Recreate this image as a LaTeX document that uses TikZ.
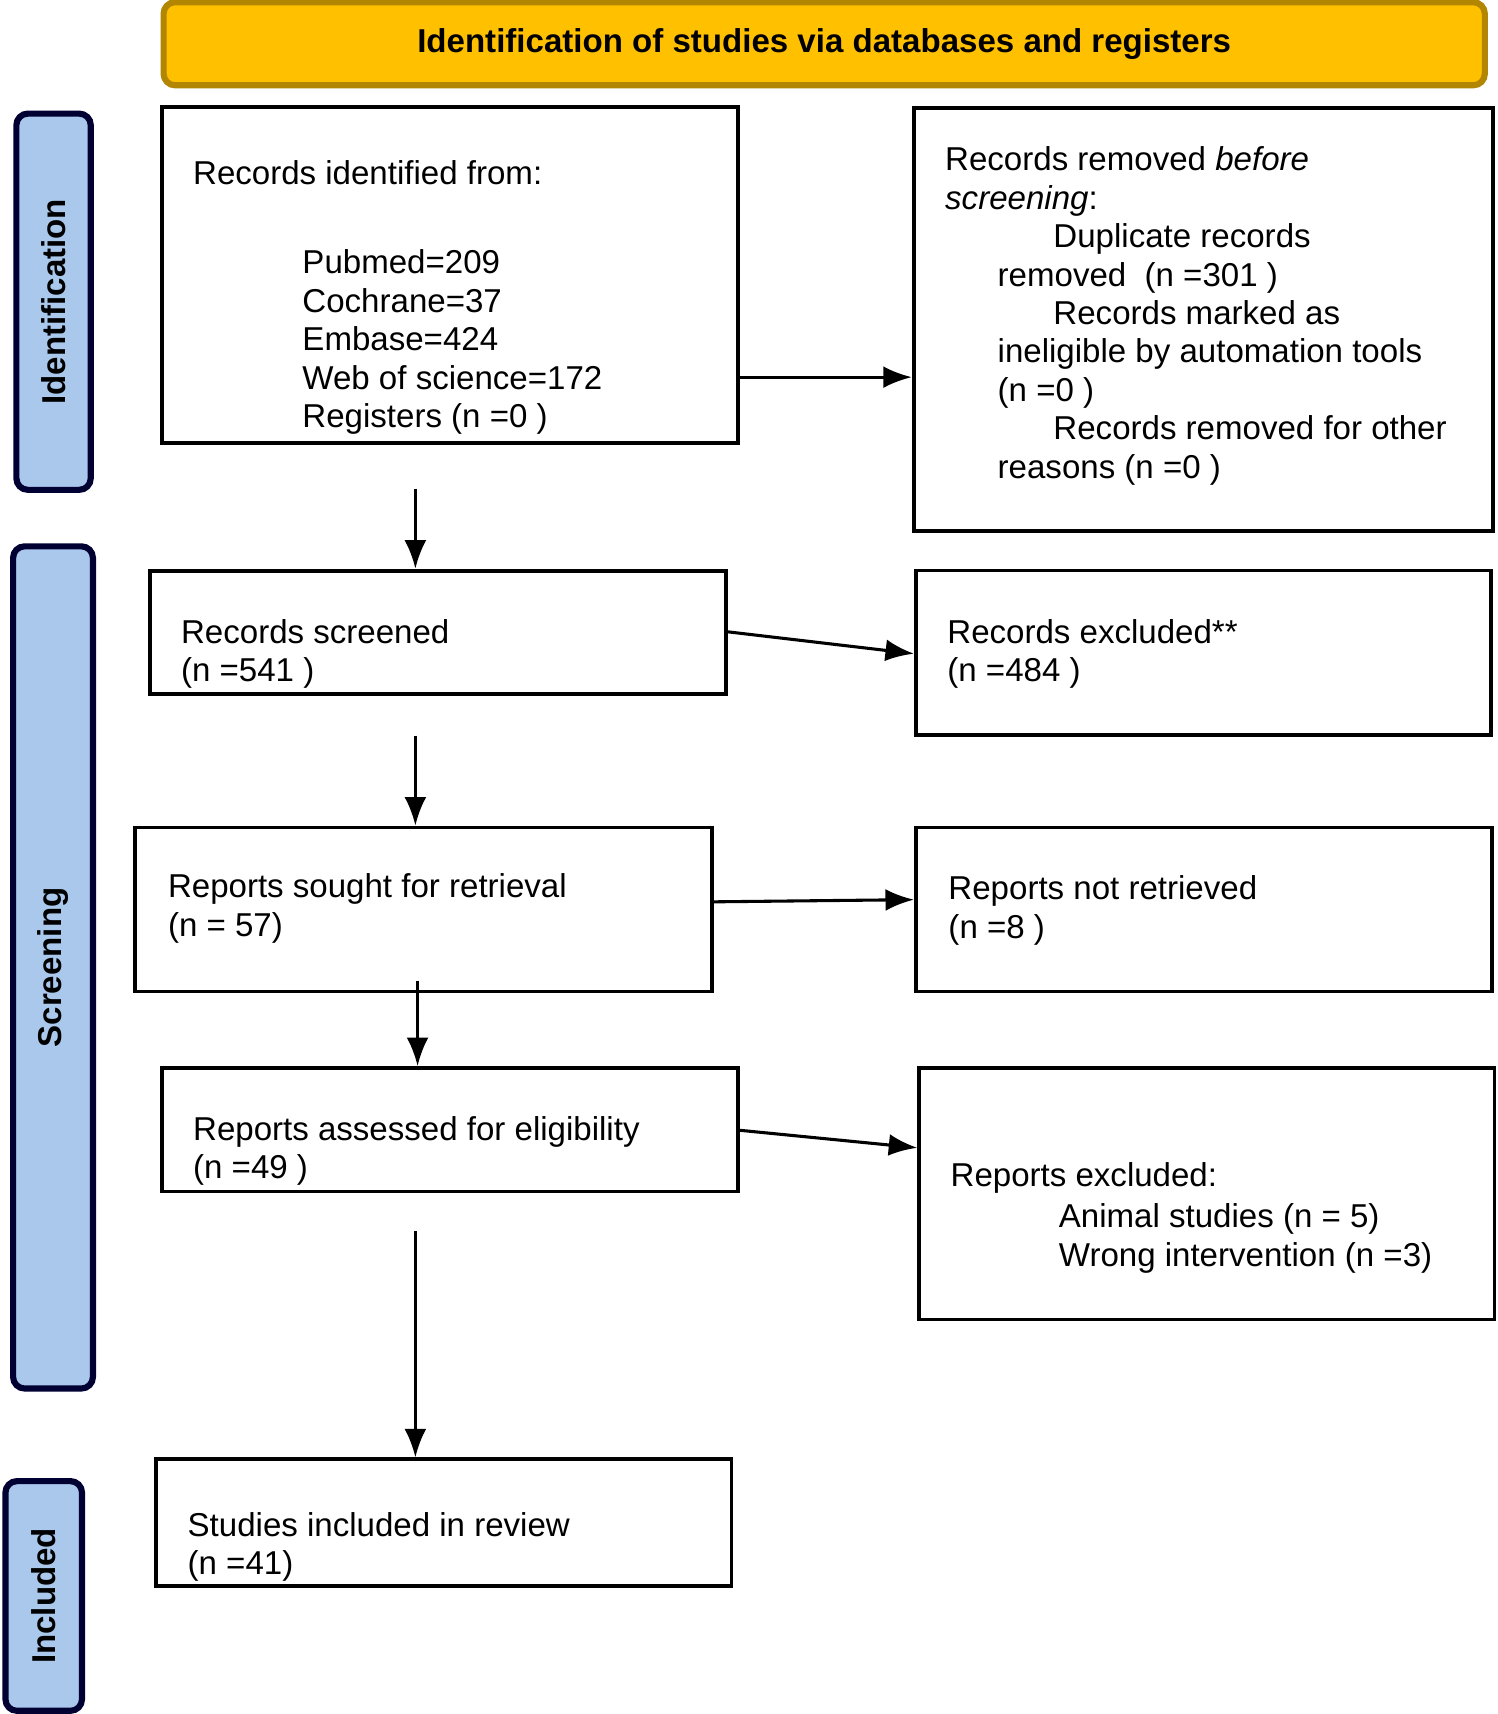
\documentclass[tikz,border=0pt]{standalone}
\usepackage{fontspec}
\setmainfont{Liberation Sans}
\usetikzlibrary{arrows.meta}
\tikzset{
  box/.style={draw=black, line width=1pt, inner sep=0pt},
  side/.style={draw=black!80!blue, line width=1.6pt, fill=sideblue, rounded corners=3pt, inner sep=0pt},
  txt/.style={anchor=west, align=left, inner sep=0pt, font=\fontsize{8.6}{10}\selectfont},
  lbl/.style={rotate=90, inner sep=0pt, font=\fontsize{8.6}{10}\selectfont\bfseries},
  arr/.style={-{Latex[length=2.6mm,width=2mm]}, line width=0.8pt}
}
\definecolor{sideblue}{HTML}{A9C8EC}
\definecolor{headorange}{HTML}{FFC000}
\begin{document}
\begin{tikzpicture}[x=0.01cm,y=-0.01cm]
\useasboundingbox (0,0) rectangle (1370,1568);

% header and side labels
\node[side, fill=headorange, draw=headorange!70!black, minimum width=12.08cm, minimum height=0.76cm,
  font=\fontsize{8.6}{10}\selectfont\bfseries] (head) at (754,40) {Identification of studies via databases and registers};
\node[side, minimum width=0.68cm, minimum height=3.44cm] (sid) at (49,276) {};
\node[lbl] (sidtxt) at (sid) {Identification};
\node[side, minimum width=0.73cm, minimum height=7.70cm] (sscr) at (48.5,885) {};
\node[lbl] (sscrtxt) at (sscr) {Screening};
\node[side, minimum width=0.70cm, minimum height=2.10cm] (sinc) at (40,1460) {};
\node[lbl] (sinctxt) at (sinc) {Included};

% boxes
\node[box, minimum width=5.27cm, minimum height=3.07cm] (b1) at (411.5,251.5) {};
\node[box, minimum width=5.30cm, minimum height=3.87cm] (r1) at (1101,292.5) {};
\node[box, minimum width=5.27cm, minimum height=1.13cm] (b2) at (400.5,578.5) {};
\node[box, minimum width=5.26cm, minimum height=1.50cm] (r2) at (1101,597) {};
\node[box, minimum width=5.27cm, minimum height=1.50cm] (b3) at (387.5,832) {};
\node[box, minimum width=5.27cm, minimum height=1.50cm] (r3) at (1101.5,832) {};
\node[box, minimum width=5.27cm, minimum height=1.13cm] (b4) at (411.5,1033.5) {};
\node[box, minimum width=5.26cm, minimum height=2.30cm] (r4) at (1104,1092) {};
\node[box, minimum width=5.26cm, minimum height=1.16cm] (b5) at (406,1393) {};

% texts
\node[txt] (t1a) at (176,158) {Records identified from:};
\node[txt] (t1b) at (276,313) {Pubmed=209\\Cochrane=37\\Embase=424\\Web of science=172\\Registers (n =0 )};
\node[txt] (tr1) at (864,289) {Records removed \textit{before}\\\textit{screening}:\\
  \hspace*{0.99cm}Duplicate records\\\hspace*{0.48cm}removed\ \ (n =301 )\\
  \hspace*{0.99cm}Records marked as\\\hspace*{0.48cm}ineligible by automation tools\\
  \hspace*{0.48cm}(n =0 )\\\hspace*{0.99cm}Records removed for other\\\hspace*{0.48cm}reasons (n =0 )};
\node[txt] (t2) at (165,598) {Records screened\\(n =541 )};
\node[txt] (tr2) at (866,598) {Records excluded**\\(n =484 )};
\node[txt] (t3) at (153,831) {Reports sought for retrieval\\(n = 57)};
\node[txt] (tr3) at (867,833) {Reports not retrieved\\(n =8 )};
\node[txt] (t4) at (176,1053) {Reports assessed for eligibility\\(n =49 )};
\node[txt] (tr4a) at (869,1078) {Reports excluded:};
\node[txt] (tr4b) at (968,1133) {Animal studies (n = 5)\\Wrong intervention (n =3)};
\node[txt] (t5) at (171,1415) {Studies included in review\\(n =41)};

% connectors
\coordinate (s1) at (380,447);
\coordinate (s2) at (380,673);
\coordinate (s3) at (382,897);
\coordinate (s4) at (380,1126);
\draw[arr] (b1.east |- 0,345) -- (r1.west |- 0,345);
\draw[arr] (b2.east |- 0,578) -- (r2.west |- 0,598);
\draw[arr] (b3.east |- 0,825) -- (r3.west |- 0,823);
\draw[arr] (b4.east |- 0,1034) -- (r4.west |- 0,1050);
\draw[arr] (s1) -- (s1 |- b2.north);
\draw[arr] (s2) -- (s2 |- b3.north);
\draw[arr] (s3) -- (s3 |- b4.north);
\draw[arr] (s4) -- (s4 |- b5.north);
\end{tikzpicture}
\end{document}
